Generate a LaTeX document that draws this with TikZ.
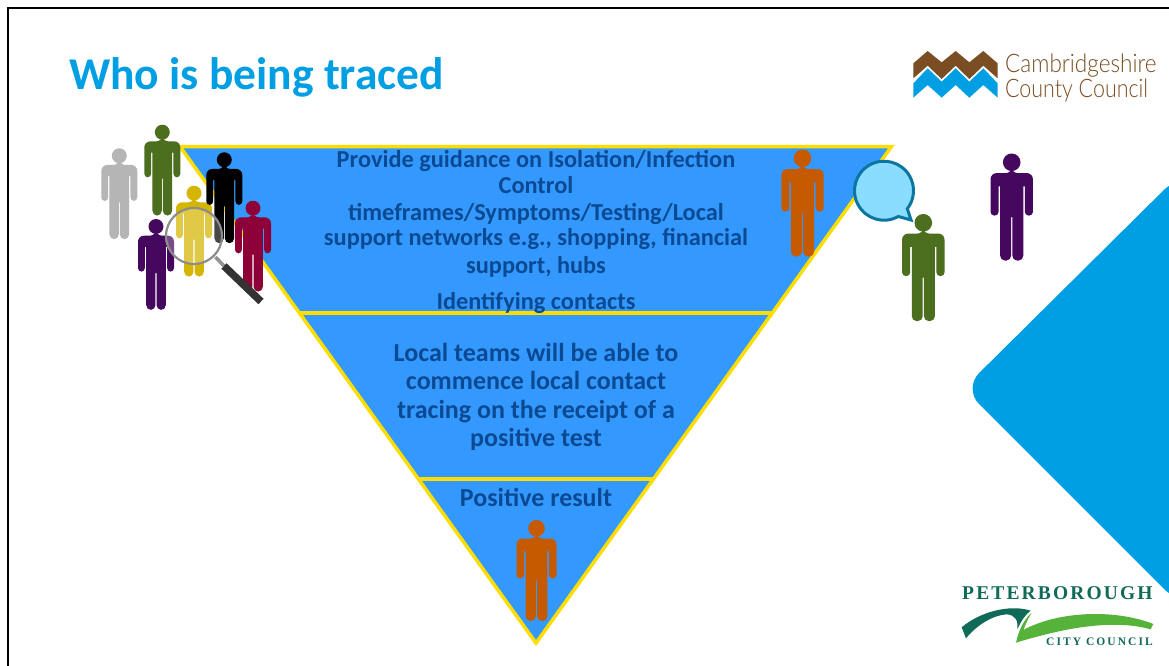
\documentclass[tikz,border=0pt]{standalone}
\usepackage{fontspec}
\setmainfont{Carlito}
\newfontfamily\logofont{Lato Light}
\newfontfamily\pbfont[LetterSpace=11]{Liberation Serif Bold}
\newfontfamily\ccfont[LetterSpace=18]{Liberation Serif Bold}
\definecolor{brandblue}{HTML}{009FE3}
\definecolor{fillblue}{HTML}{3399FF}
\definecolor{edgeyellow}{HTML}{FFDD00}
\definecolor{bodyblue}{HTML}{0B4A92}
\definecolor{pOrange}{HTML}{C55A00}
\definecolor{pGreen}{HTML}{4B6E1F}
\definecolor{pPurple}{HTML}{46075F}
\definecolor{pGray}{HTML}{B5B5B5}
\definecolor{pYellow}{HTML}{D4B500}
\definecolor{pCrimson}{HTML}{8E0038}
\definecolor{logoBrown}{HTML}{7A4E22}
\definecolor{bubbleEdge}{HTML}{0B76A0}
\definecolor{bubbleFill}{HTML}{8BDDFF}
\definecolor{pbDark}{HTML}{0F6A58}
\definecolor{pbLight}{HTML}{55B33A}
\tikzset{
  x=1pt,y=-1pt,
  person/.pic={
    \fill[#1] (0,8.3) circle[radius=8.3];
    \fill[#1] [rounded corners=6pt] (0,18.5) -- (20,18.5) [rounded corners=3.6pt] -- (20,58.5) -- (12.4,58.5)
      [sharp corners] -- (12.4,31) -- (10.9,31) [rounded corners=4.8pt] -- (10.9,101) -- (0.6,101)
      [sharp corners] -- (0.6,60) -- (-0.6,60) [rounded corners=4.8pt] -- (-0.6,101) -- (-10.9,101)
      [sharp corners] -- (-10.9,31) -- (-12.4,31) [rounded corners=3.6pt] -- (-12.4,58.5) -- (-20,58.5)
      [rounded corners=6pt] -- (-20,18.5) -- (0,18.5) -- cycle;
  },
  tier/.style={fill=fillblue,draw=edgeyellow,line width=3.5pt,line join=miter},
  bodytext/.style={font=\fontsize{24.35}{25.2}\selectfont\bfseries,text=bodyblue,align=center,inner sep=0pt},
  bodytextb/.style={font=\fontsize{26}{28.3}\selectfont\bfseries,text=bodyblue,align=center,inner sep=0pt},
  logotext/.style={anchor=base west,inner sep=0pt,text=logoBrown,font=\logofont\fontsize{25.5}{25.5}\selectfont},
}
\begin{document}
\begin{tikzpicture}
\useasboundingbox (0,0) rectangle (1169,666);
\fill[white] (0,0) rectangle (1169,666);
% frame
\draw[black,line width=2pt] (8,666) -- (8,8) -- (1169,8);
% big diamond
\fill[brandblue,rounded corners=22pt] (1180,174) -- (963.5,388.5) -- (1180,605) -- cycle;
\fill[white] (1169,0) rectangle (1185,666);
% title
\node[anchor=base west,inner sep=0pt,text=brandblue,font=\fontsize{45.5}{45.5}\selectfont\bfseries] (title) at (69,90) {Who is being traced};
% triangle
\coordinate (tl) at (180,146.5);
\coordinate (tr) at (891.5,146.5);
\coordinate (tb) at (536,643);
\coordinate (d1l) at (299.6,313);
\coordinate (d1r) at (772,313);
\coordinate (d2l) at (418.5,479);
\coordinate (d2r) at (653.5,479);
\draw[tier] (tl) -- (tr) -- (tb) -- cycle;
\draw[edgeyellow,line width=3.5pt] (d1l) -- (d1r);
\draw[edgeyellow,line width=3.5pt] (d2l) -- (d2r);
% texts
\node[bodytext,anchor=north] (t1) at (536,150.5) {Provide guidance on Isolation/Infection\\Control\\[2.5pt]timeframes/Symptoms/Testing/Local\\support networks e.g., shopping, financial\\[2pt]support, hubs};
\node[bodytext,anchor=base] (t2) at (536,309) {Identifying contacts};
\node[bodytextb,anchor=north] (t3) at (536,343) {Local teams will be able to\\commence local contact\\tracing on the receipt of a\\positive test};
\node[bodytextb,anchor=base] (t4) at (536,506) {Positive result};
% people
\pic at (536.5,520) {person=pOrange};
\pic[scale=1.06] at (802.5,149.5) {person=pOrange};
\pic[scale=1.06] at (923.3,214) {person=pGreen};
\pic[scale=1.06] at (1011.7,153.5) {person=pPurple};
\pic[scale=.9] at (119.3,148.3) {person=pGray};
\pic[scale=.9] at (162.3,124.7) {person=pGreen};
\pic[scale=.9] at (194,185.7) {person=pYellow};
\pic[scale=.9] at (224.3,152.3) {person=black};
\pic[scale=.9] at (253,200.7) {person=pCrimson};
\pic[scale=.9] at (156,219) {person=pPurple};
% magnifier
\coordinate (lens) at (194,236);
\draw[gray!85,line width=3.5pt] (215.5,257) -- (224,266);
\draw[black!80,line width=7.5pt] (224,266) -- (261,301.5);
\fill[white,opacity=.28] (lens) circle[radius=28];
\draw[gray!90,line width=2.2pt] (lens) circle[radius=28];
% speech bubble
\begin{scope}[shift={(884,190.7)},x=1pt,y=1pt]
\draw[fill=bubbleFill,draw=bubbleEdge,line width=3pt,line join=miter] (27,-29.3) -- (-61:29.5) arc[start angle=-61,end angle=-397.8,radius=29.5] -- cycle;
\end{scope}
% Cambridgeshire logo
\begin{scope}[shift={(900,30)},x=.3333pt,y=-.3333pt]
\fill[logoBrown] (40,100) -- (83,63) -- (125,97) -- (167,63) -- (208,97) -- (250,63) -- (293,100) -- (293,145) -- (250,107) -- (208,147) -- (167,107) -- (125,147) -- (83,107) -- (40,145) -- cycle;
\fill[brandblue] (40,160) -- (83,115) -- (125,155) -- (167,115) -- (208,155) -- (250,115) -- (293,160) -- (293,203) -- (250,165) -- (208,203) -- (167,165) -- (125,203) -- (83,165) -- (40,203) -- cycle;
\end{scope}
\node[logotext,xscale=.885] (cc1) at (1005,73) {Cambridgeshire};
\node[logotext,xscale=.84] (cc2) at (1005,98) {County Council};
% Peterborough logo
\begin{scope}[shift={(940,570)},x=.3333pt,y=-.3333pt]
\fill[pbDark] (65,172) .. controls (120,125) and (210,102) .. (272,122) .. controls (255,135) and (245,150) .. (232,178) .. controls (235,150) and (225,135) .. (200,133) .. controls (160,135) and (110,165) .. (78,205) -- cycle;
\fill[pbLight] (640,162) .. controls (520,115) and (350,125) .. (250,180) .. controls (258,160) and (265,145) .. (275,128) .. controls (250,150) and (235,185) .. (228,218) .. controls (320,190) and (500,140) .. (632,178) -- cycle;
\end{scope}
\node[anchor=base west,inner sep=0pt,text=pbDark,font=\pbfont\fontsize{19.5}{19.5}\selectfont] (pb1) at (962,599) {PETERBOROUGH};
\node[anchor=base west,inner sep=0pt,text=pbDark,font=\ccfont\fontsize{11.5}{11.5}\selectfont] (pb2) at (1046,645) {CITY COUNCIL};
\end{tikzpicture}
\end{document}
